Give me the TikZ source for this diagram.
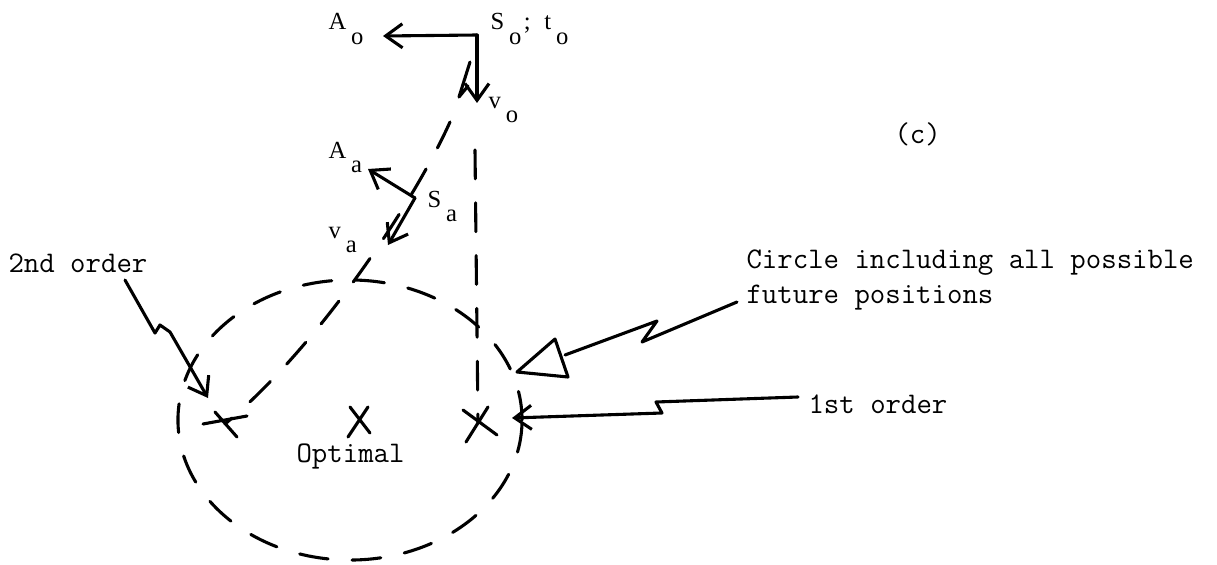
\documentclass[tikz,border=0pt]{standalone}
\usepackage{fontspec}
\newfontfamily\lblfont{Liberation Serif}
\usetikzlibrary{arrows.meta}
\newcommand\lowsub[1]{\kern0.2em\raisebox{-0.6em}{#1}}

\begin{document}
\begin{tikzpicture}[
    x={(0.025cm,0cm)},y={(0cm,-0.025cm)},
    line width=2.2pt,line cap=round,line join=round,
    >={Straight Barb[length=4.2mm,width=6mm]},
    lbl/.style={font=\lblfont\fontsize{17.5}{19}\selectfont,inner sep=0pt,anchor=base west},
    txt/.style={font=\ttfamily\fontsize{21.3}{24.2}\selectfont,inner sep=0pt,anchor=base west,align=left},
    dsh/.style={dash pattern=on 0.72cm off 0.6cm}]
    \useasboundingbox (0,0) rectangle (1217,565);
    \node[lbl] (ao) at (327,30) {A\lowsub{o}};
    \node[lbl] (so label) at (489,30) {S\lowsub{o}\kern0.1em;\kern0.55em t\lowsub{o}};
    \node[lbl] (vo) at (487,108) {v\lowsub{o}};
    \node[lbl] (aa) at (327,158) {A\lowsub{a}};
    \node[lbl] (sa label) at (426,207) {S\lowsub{a}};
    \node[lbl] (va) at (327,238) {v\lowsub{a}};
    \node[txt] (panel) at (893,143) {(c)};
    \node[txt] (second label) at (7,272) {2nd order};
    \node[txt] (optimal label) at (295,462) {Optimal};
    \node[txt] (circle label) at (745,303) {Circle including all possible\\future positions};
    \node[txt] (first label) at (807,413) {1st order};
    \coordinate (so) at (477,35);
    \coordinate (ao tip) at (383,36);
    \coordinate (vo tip) at (477,103);
    \coordinate (sa) at (415,198);
    \coordinate (aa tip) at (368,169);
    \coordinate (va tip) at (388,245);
    \coordinate (second) at (225,424);
    \coordinate (optimal) at (360,420);
    \coordinate (first) at (478,423);
    \coordinate (centre) at (350,420);
    \coordinate (second tail) at (125,280);
    \coordinate (second tip) at (208,398);
    \coordinate (circle tail) at (737,302);
    \coordinate (first tail) at (798,397);
    \coordinate (first tip) at (512,418);
    \draw[->] (so) -- (ao tip);
    \draw[->] (so) -- (vo tip);
    \draw (470,62) -- (459,97) -- (468,86);
    \draw[->] (sa) -- (aa tip);
    \draw[->] (sa) -- (va tip);
    \draw[dsh] (450,122) .. controls (415,200) and (320,345) .. (second);
    \draw[dsh] (475,150) -- (first);
    \draw[dsh] (centre) ellipse [x radius=4.3cm,y radius=3.5cm];
    \draw (second) ++(-22,0) -- ++(44,-8) (second) ++(-10,-12) -- ++(22,25);
    \draw (optimal) ++(-10,-13) -- ++(20,26) (optimal) ++(8,-13) -- ++(-20,30);
    \draw (first) ++(-15,-13) -- ++(34,25) (first) ++(-12,19) -- ++(22,-35);
    \draw[->] (second tail) -- (155,333) -- (160,325) -- (170,332) -- (second tip);
    \draw (circle tail) -- (642,342) -- (657,321) -- (565,355);
    \draw (517,372) -- (555,339) -- (568,377) -- cycle;
    \draw[->] (first tail) -- (656,402) -- (662,413) -- (first tip);
\end{tikzpicture}
\end{document}
